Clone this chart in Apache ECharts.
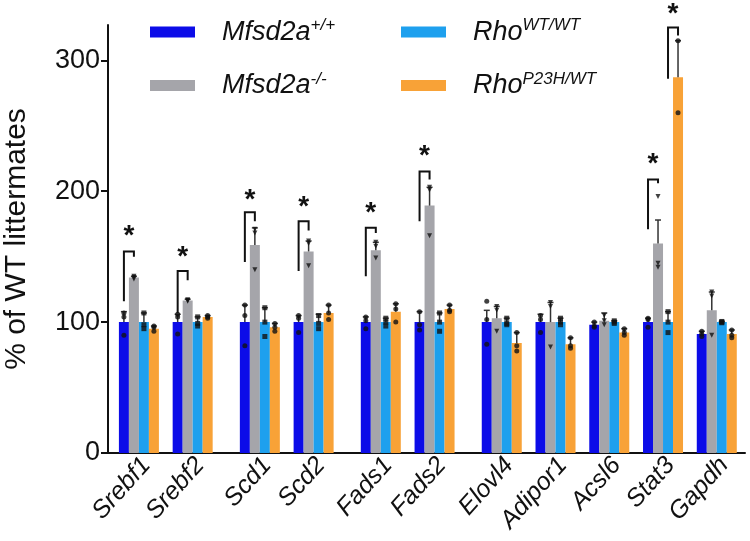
<!DOCTYPE html>
<html><head><meta charset="utf-8">
<script src="https://cdn.jsdelivr.net/npm/echarts@6/dist/echarts.min.js"></script>
<style>html,body{margin:0;padding:0;background:#fff}#c{width:750px;height:541px}</style>
</head><body><div id="c"></div>
<script>
// ---------- data ----------
const genes = ['Srebf1','Srebf2','Scd1','Scd2','Fads1','Fads2','Elovl4','Adipor1','Acsl6','Stat3','Gapdh'];
const clusterSizes = [2, 2, 2, 5];
const seriesNames = ['Mfsd2a+/+','Mfsd2a-/-','RhoWT/WT','RhoP23H/WT'];
const nameBase = ['Mfsd2a','Mfsd2a','Rho','Rho'];
const nameSup = ['+/+','-/-','WT/WT','P23H/WT'];
const yTicks = [0, 100, 200, 300];

const wtMean    = [100, 100, 100, 100, 100, 100, 100, 100, 98, 100, 91];
const koMean    = [134, 116.5, 159, 154, 155, 189, 103, 100, 101, 160, 109];
const rhoWtMean = [100, 100, 100, 100, 100, 100, 100, 100, 100, 100, 100];
const rhoMutMean= [95, 104, 96, 107, 108, 110, 84, 83, 92, 287, 91];

const wtSem     = [8, 6, 13, 5, 4, 8, 9, 6, 2, 3, 2];
const koSem     = [1, 1, 13, 8, 6, 14, 9, 15, 6, 18, 14];
const rhoWtSem  = [7, 4, 11, 6, 3, 7, 3, 3, 1, 8, 0.5];
const rhoMutSem = [2, 1, 3, 6, 6, 3, 8, 5, 3, 28, 3];

const wtPts = [[107,104,90],[106,104,91],[113,105,82],[105,103,92],[104,101,95],[108,98,94],[116,102,83],[105,102,92],[100,97,96],[103,102,96],[93,91,89]];
const koPts = [[135,134,133],[117,116.5,116],[171,168,140],[162,160,143],[161,158,149],[203,201,166],[112,109,93],[115,112,81],[105,101,98],[196,145,142],[123,120,90]];
const rhoWtPts = [[107,98,95],[104,99,97],[111,100,89],[105,99,95],[103,100,97],[107,100,93],[103,99,98],[103,100,98],[101,100,99],[108,100,92],[100.5,100,99.5]];
const rhoMutPts = [[97,96,93],[105,104,103],[99,96,93],[113,107,102],[114,110,100],[113,109,108],[92,82,78],[88,82,80],[95,92,90],[315,260],[94,90,88]];

// significance brackets: gene index, from series, to series, left foot, top, right foot, star
const sigGene  = [0, 1, 2, 3, 4, 5, 9, 9];
const sigFrom  = [0, 0, 0, 0, 0, 0, 0, 2];
const sigTo    = [1, 1, 1, 1, 1, 1, 1, 3];
const sigLeft  = [116, 107, 146, 139, 135, 177, 171, 286];
const sigTop   = [154, 139, 184, 177, 172, 215, 209, 325];
const sigRight = [150, 132, 177, 170, 168, 209, 206, 319];
const sigStar  = [170, 154, 198, 192, 188, 231, 225, 340];

// ---------- layout ----------
const colors = ['#0c0ce8', '#a5a5aa', '#1ea0ee', '#f8a237'];
const symbols = ['circle', 'triangle', 'rect', 'circle'];
const FONT = '"Liberation Sans", Arial, Helvetica, sans-serif';
const GRID_L = 108, GRID_R = 5, GRID_T = 25, GRID_B = 88;
const X_MIN = -2.3, X_MAX = 45.1;
const pxPerUnit = (750 - GRID_L - GRID_R) / (X_MAX - X_MIN);
const BAR_W = 10;
const pitch = BAR_W / pxPerUnit;
const LABEL_SHIFT = 0.55;

const groupPos = [];
(function(){ let p = 0; clusterSizes.forEach(n => { for (let i = 0; i < n; i++) { groupPos.push(p); p += 4; } p += 1; }); })();
const xOf = (k, s) => groupPos[k] + (s - 1.5) * pitch;
const labelPos = groupPos.map(p => p + LABEL_SHIFT);

const means = [wtMean, koMean, rhoWtMean, rhoMutMean];
const sems = [wtSem, koSem, rhoWtSem, rhoMutSem];
const pts = [wtPts, koPts, rhoWtPts, rhoMutPts];

const series = [];
means.forEach((m, s) => {
  series.push({
    name: seriesNames[s], type: 'bar', barWidth: BAR_W, barGap: '-100%',
    itemStyle: { color: colors[s] }, z: 2,
    data: m.map((v, k) => [xOf(k, s), v])
  });
});
means.forEach((m, s) => {
  series.push({
    type: 'custom', z: 5, clip: false,
    data: m.map((v, k) => [xOf(k, s), v, v + sems[s][k]]),
    renderItem: (params, api) => {
      const p0 = api.coord([api.value(0), api.value(1)]);
      const p1 = api.coord([api.value(0), api.value(2)]);
      return { type: 'group', children: [
        { type: 'line', shape: { x1: p0[0], y1: p0[1], x2: p1[0], y2: p1[1] }, style: { stroke: '#333', lineWidth: 1.5 } },
        { type: 'line', shape: { x1: p1[0] - 3, y1: p1[1], x2: p1[0] + 3, y2: p1[1] }, style: { stroke: '#333', lineWidth: 1.5 } }
      ]};
    }
  });
});
pts.forEach((arr, s) => {
  const d = [];
  arr.forEach((vals, k) => vals.forEach(v => d.push([xOf(k, s), v])));
  series.push({
    type: 'scatter', z: 6, symbol: symbols[s], symbolSize: 5,
    symbolRotate: s === 1 ? 180 : 0,
    itemStyle: { color: '#111' }, data: d
  });
});
series.push({
  type: 'custom', z: 7, clip: false,
  data: sigGene.map((g, i) => [xOf(g, sigFrom[i]), xOf(g, sigTo[i]), sigLeft[i], sigTop[i], sigRight[i], sigStar[i]]),
  renderItem: (params, api) => {
    const a = api.coord([api.value(0), api.value(2)]);
    const b = api.coord([api.value(0), api.value(3)]);
    const c = api.coord([api.value(1), api.value(3)]);
    const d = api.coord([api.value(1), api.value(4)]);
    const st = api.coord([(api.value(0) + api.value(1)) / 2, api.value(5)]);
    return { type: 'group', children: [
      { type: 'polyline', shape: { points: [a, b, c, d] }, style: { stroke: '#111', lineWidth: 2, fill: null } },
      { type: 'text', x: st[0], y: st[1] + 6, style: { text: '*', font: 'bold 28px ' + FONT, fill: '#111', align: 'center', verticalAlign: 'middle' } }
    ]};
  }
});

const legendCommon = {
  orient: 'vertical', icon: 'rect', itemWidth: 45, itemHeight: 11, itemGap: 25, top: 12,
  formatter: name => { const i = seriesNames.indexOf(name); return '{b|' + nameBase[i] + '}{s|' + nameSup[i] + '}'; },
  textStyle: { rich: {
    b: { fontSize: 27, fontStyle: 'italic', fontFamily: FONT, color: '#111', lineHeight: 30, padding: [0, 0, 0, 22] },
    s: { fontSize: 17, fontStyle: 'italic', fontFamily: FONT, color: '#111', verticalAlign: 'top' }
  } }
};

const chart = echarts.init(document.getElementById('c'));
chart.setOption({
  animation: false,
  grid: { left: GRID_L, right: GRID_R, top: GRID_T, bottom: GRID_B, containLabel: false, outerBoundsMode: 'none' },
  legend: [
    Object.assign({}, legendCommon, { left: 145, data: [seriesNames[0], seriesNames[1]] }),
    Object.assign({}, legendCommon, { left: 396, data: [seriesNames[2], seriesNames[3]] })
  ],
  xAxis: {
    type: 'value', min: X_MIN, max: X_MAX,
    axisLine: { show: true, onZero: false, lineStyle: { color: '#111', width: 2 } },
    axisTick: { show: false },
    splitLine: { show: false },
    axisLabel: {
      customValues: labelPos, rotate: 48, fontSize: 25, fontStyle: 'italic', fontFamily: FONT, color: '#111', margin: 8,
      formatter: v => { const k = labelPos.findIndex(p => Math.abs(p - v) < 1e-6); return k >= 0 ? genes[k] : ''; }
    }
  },
  yAxis: {
    type: 'value', min: 0, max: 327,
    name: '% of WT littermates', nameLocation: 'middle', nameGap: 76,
    nameTextStyle: { fontSize: 30, fontFamily: FONT, color: '#111' },
    axisLine: { show: true, onZero: false, lineStyle: { color: '#111', width: 2 } },
    axisTick: { show: true, inside: false, length: 7, lineStyle: { color: '#111', width: 2 }, customValues: yTicks },
    splitLine: { show: false },
    axisLabel: { customValues: yTicks, fontSize: 27, fontFamily: FONT, color: '#111', margin: 8 }
  },
  series: series
});
</script>
</body></html>
